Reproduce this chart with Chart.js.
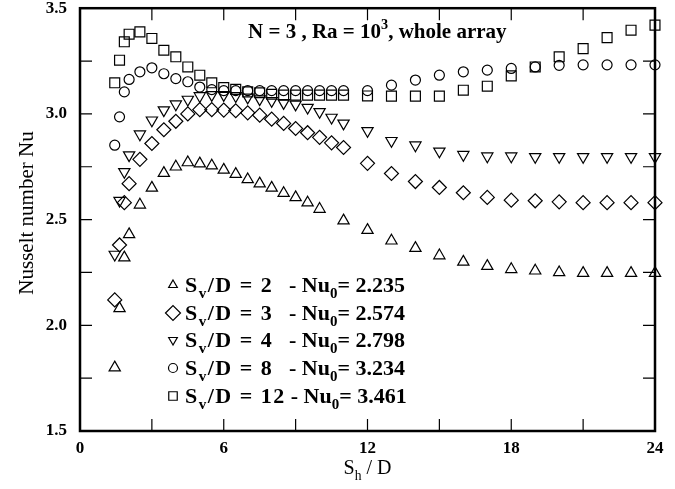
<!DOCTYPE html>
<html>
<head>
<meta charset="utf-8">
<script src="https://cdn.jsdelivr.net/npm/chart.js@4.4.0/dist/chart.umd.min.js"></script>
<style>
  html, body { margin: 0; padding: 0; background: #fff; }
</style>
</head>
<body>
<canvas id="chart" width="675" height="489"></canvas>
<script>
// horizontal spacing S_h/D
const shD = [1.45, 1.65, 1.85, 2.05, 2.5, 3, 3.5, 4, 4.5, 5, 5.5, 6, 6.5, 7, 7.5, 8, 8.5, 9, 9.5, 10, 10.5, 11,
             12, 13, 14, 15, 16, 17, 18, 19, 20, 21, 22, 23, 24];

// Nusselt number for each vertical spacing S_v/D
const nuSv2 = [1.80, 2.08, 2.32, 2.43, 2.57, 2.65, 2.72, 2.75, 2.77, 2.765, 2.755, 2.735, 2.715, 2.69, 2.67, 2.65, 2.625, 2.605, 2.58, 2.55, null, 2.495,
               2.45, 2.40, 2.365, 2.33, 2.30, 2.28, 2.265, 2.258, 2.25, 2.247, 2.247, 2.247, 2.247];
const nuSv3 = [2.12, 2.38, 2.58, 2.67, 2.785, 2.86, 2.925, 2.965, 3.0, 3.02, 3.02, 3.018, 3.015, 3.005, 2.994, 2.975, 2.955, 2.931, 2.911, 2.889, 2.863, 2.841,
               2.766, 2.718, 2.68, 2.652, 2.627, 2.605, 2.592, 2.589, 2.584, 2.58, 2.58, 2.58, 2.58];
const nuSv4 = [2.335, 2.59, 2.726, 2.805, 2.904, 2.97, 3.018, 3.046, 3.068, 3.085, 3.09, 3.09, 3.085, 3.078, 3.07, 3.062, 3.052, 3.045, 3.03, 3.01, 2.983, 2.955,
               2.92, 2.873, 2.852, 2.823, 2.807, 2.80, 2.80, 2.797, 2.797, 2.797, 2.797, 2.797, 2.797];
const nuSv8 = [2.852, 2.986, 3.104, 3.163, 3.199, 3.218, 3.19, 3.167, 3.152, 3.127, 3.115, 3.11, 3.11, 3.11, 3.11, 3.11, 3.11, 3.11, 3.11, 3.11, 3.11, 3.11,
               3.11, 3.136, 3.16, 3.183, 3.199, 3.207, 3.215, 3.222, 3.23, 3.232, 3.232, 3.232, 3.232];
const nuSv12 = [3.147, 3.254, 3.341, 3.377, 3.388, 3.357, 3.301, 3.27, 3.222, 3.183, 3.147, 3.125, 3.116, 3.104, 3.10, 3.093, 3.089, 3.089, 3.089, 3.089, 3.089, 3.089,
                3.085, 3.084, 3.084, 3.084, 3.112, 3.131, 3.18, 3.222, 3.27, 3.309, 3.361, 3.396, 3.42];

const svLabels = ['2', '3', '4', '8', '12'];
const nu0Labels = ['2.235', '2.574', '2.798', '3.234', '3.461'];

const xTickValues = [0, 3, 6, 9, 12, 15, 18, 21, 24];
const yTickValues = [1.5, 1.75, 2, 2.25, 2.5, 2.75, 3, 3.25, 3.5];

const allSeries = [nuSv2, nuSv3, nuSv4, nuSv8, nuSv12];
const markers = [
  { style: 'triangle', rotation: 0, radius: 6.5, legendRadius: 5 },
  { style: 'rectRot', rotation: 0, radius: 7, legendRadius: 7.5 },
  { style: 'triangle', rotation: 180, radius: 6.5, legendRadius: 5 },
  { style: 'circle', rotation: 0, radius: 5, legendRadius: 4.5 },
  { style: 'rect', rotation: 0, radius: 7, legendRadius: 6 }
];

const FONT = '"Liberation Serif", "DejaVu Serif", serif';

function drawRich(ctx, x, y, parts, size, weight, measureOnly) {
  parts.forEach(p => {
    const fs = (p.sub || p.sup) ? size * 0.68 : size;
    ctx.font = weight + ' ' + fs + 'px ' + FONT;
    const dy = p.sub ? size * 0.28 : (p.sup ? -size * 0.42 : 0);
    if (!measureOnly) ctx.fillText(p.t, x, y + dy);
    x += ctx.measureText(p.t).width;
  });
  return x;
}

const datasets = allSeries.map((vals, i) => ({
  label: 'Sv/D = ' + svLabels[i],
  data: shD.map((x, j) => ({ x: x, y: vals[j] })).filter(p => p.y !== null),
  showLine: false,
  pointStyle: markers[i].style,
  pointRotation: markers[i].rotation,
  pointRadius: markers[i].radius,
  pointHoverRadius: markers[i].radius,
  pointBorderWidth: 1.2,
  pointBorderColor: '#000',
  pointBackgroundColor: 'rgba(0,0,0,0)',
  clip: false
}));

const decorPlugin = {
  id: 'decor',
  beforeDatasetsDraw(chart) {
    const ctx = chart.ctx;
    const a = chart.chartArea;
    const xs = chart.scales.x, ys = chart.scales.y;
    ctx.save();
    ctx.strokeStyle = '#000';
    ctx.lineWidth = 1.2;
    const tl = 12;
    xTickValues.forEach(v => {
      const px = xs.getPixelForValue(v);
      ctx.beginPath();
      ctx.moveTo(px, a.bottom); ctx.lineTo(px, a.bottom - tl);
      ctx.moveTo(px, a.top); ctx.lineTo(px, a.top + tl);
      ctx.stroke();
    });
    yTickValues.forEach(v => {
      const py = ys.getPixelForValue(v);
      ctx.beginPath();
      ctx.moveTo(a.left, py); ctx.lineTo(a.left + tl, py);
      ctx.moveTo(a.right, py); ctx.lineTo(a.right - tl, py);
      ctx.stroke();
    });
    ctx.lineWidth = 2.5;
    ctx.strokeRect(a.left, a.top, a.right - a.left, a.bottom - a.top);
    ctx.restore();
  },
  afterDraw(chart) {
    const ctx = chart.ctx;
    const a = chart.chartArea;
    ctx.save();
    ctx.fillStyle = '#000';
    ctx.textBaseline = 'alphabetic';
    ctx.textAlign = 'left';

    // title inside the plot
    drawRich(ctx, 248, 38, [{ t: 'N = 3 , Ra = 10' }, { t: '3', sup: true }, { t: ', whole array' }], 21, 'bold');

    // legend
    const rowY = [292, 320, 347, 375, 403];
    svLabels.forEach((sv, i) => {
      const m = markers[i];
      ctx.strokeStyle = '#000';
      ctx.fillStyle = 'rgba(0,0,0,0)';
      Chart.helpers.drawPoint(ctx, { pointStyle: m.style, rotation: m.rotation, radius: m.legendRadius, borderWidth: 1.2 }, 173, rowY[i] - 7);
      ctx.fillStyle = '#000';
      ctx.letterSpacing = '1.5px';
      const end = drawRich(ctx, 185, rowY[i], [{ t: 'S' }, { t: 'v', sub: true }, { t: '/D = ' + sv }], 22, 'bold');
      ctx.letterSpacing = '0px';
      drawRich(ctx, Math.max(289, end + 5), rowY[i], [{ t: '- Nu' }, { t: '0', sub: true }, { t: '= ' + nu0Labels[i] }], 22, 'bold');
    });

    // axis titles
    ctx.save();
    ctx.translate(27, 213);
    ctx.rotate(-Math.PI / 2);
    ctx.textAlign = 'center';
    ctx.textBaseline = 'middle';
    ctx.font = '21px ' + FONT;
    ctx.fillText('Nusselt number Nu', 0, 0);
    ctx.restore();

    const xParts = [{ t: 'S' }, { t: 'h', sub: true }, { t: ' / D' }];
    const w = drawRich(ctx, 0, 0, xParts, 20, 'normal', true);
    drawRich(ctx, (a.left + a.right) / 2 - w / 2, 474, xParts, 20, 'normal');
    ctx.restore();
  }
};

new Chart(document.getElementById('chart'), {
  type: 'scatter',
  data: { datasets: datasets },
  options: {
    responsive: false,
    animation: false,
    devicePixelRatio: 1,
    layout: { padding: { top: 8, right: 20, left: 0, bottom: 0 } },
    plugins: {
      legend: { display: false },
      tooltip: { enabled: false }
    },
    scales: {
      x: {
        type: 'linear',
        min: 0,
        max: 24,
        afterFit: s => { s.height = 58; s.paddingLeft = 0; s.paddingRight = 0; },
        grid: { display: false, drawTicks: false },
        border: { display: false },
        ticks: { stepSize: 6, padding: 7, color: '#000', font: { family: FONT, size: 17, weight: 'bold' } }
      },
      y: {
        min: 1.5,
        max: 3.5,
        afterFit: s => { s.width = 80; s.paddingTop = 0; s.paddingBottom = 0; },
        grid: { display: false, drawTicks: false },
        border: { display: false },
        ticks: {
          stepSize: 0.5,
          padding: 13,
          color: '#000',
          font: { family: FONT, size: 17, weight: 'bold' },
          callback: v => v.toFixed(1)
        }
      }
    }
  },
  plugins: [decorPlugin]
});
</script>
</body>
</html>
